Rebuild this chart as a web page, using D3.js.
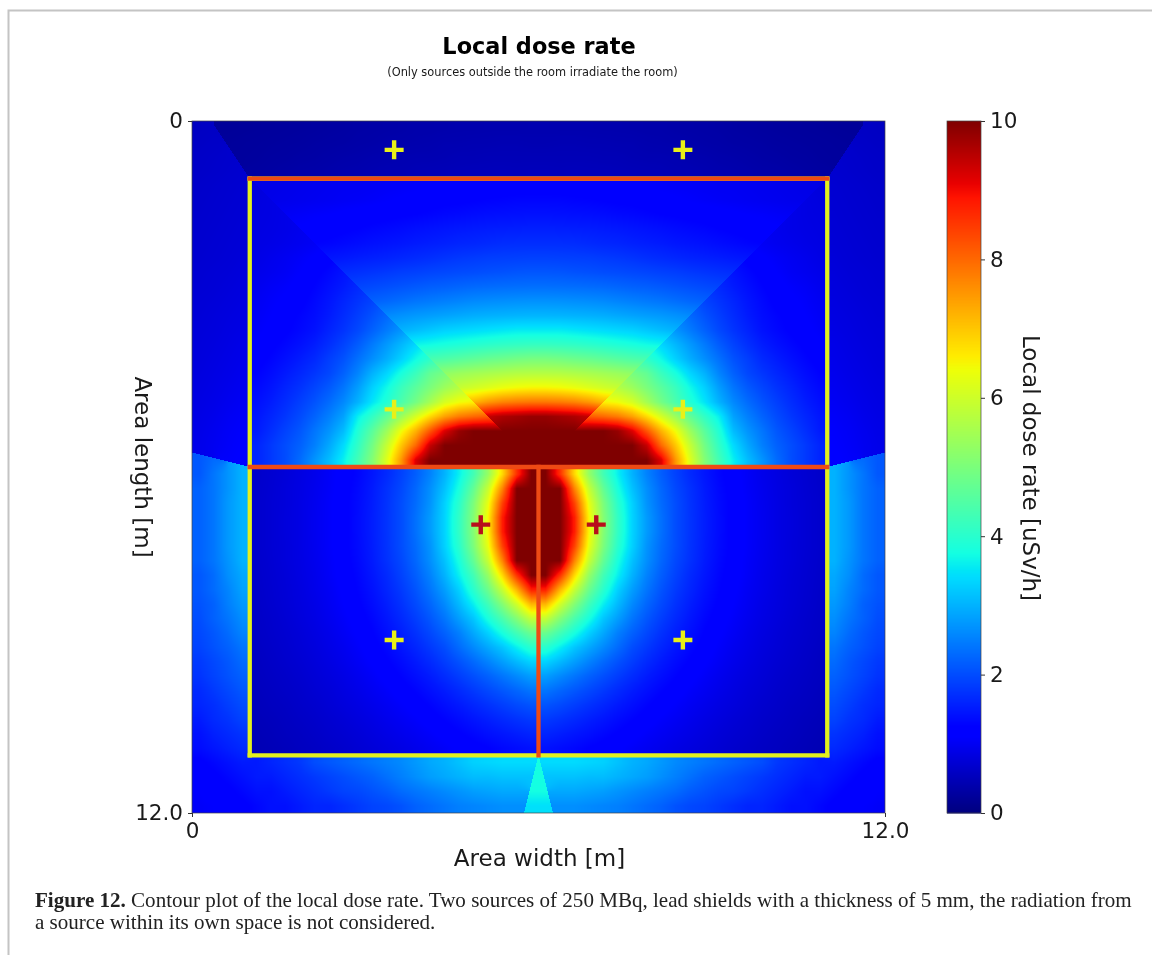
<!DOCTYPE html>
<html>
<head>
<meta charset="utf-8">
<script src="https://cdn.jsdelivr.net/npm/d3@7"></script>
<style>
	html, body { margin: 0; background: #fff; }
	#chart { position: relative; width: 1152px; height: 955px; overflow: hidden; filter: blur(.35px); }
	#chart canvas, #chart svg { position: absolute; }
	text { font-family: 'DejaVu Sans', sans-serif; fill: #1a1a1a; }
	.caption { font-family: 'Liberation Serif', serif; font-size: 21.05px; fill: #222; }
</style>
</head>
<body>
<div id="chart"></div>
<script>
// dose rate [uSv/h] on a 0.25 m grid.
// rows run from y = 0.125 m down to 11.875 m, columns from x = 0.125 m to 5.875 m (the plot mirrors at x = 6 m)
const doseRows = [
	[.58,.6,.22,.23,.24,.25,.26,.27,.28,.3,.31,.33,.34,.35,.36,.38,.38,.39,.4,.4,.41,.41,.41,.42],
	[.6,.62,.24,.25,.26,.27,.28,.29,.31,.32,.33,.35,.36,.38,.39,.4,.41,.43,.43,.44,.44,.45,.45,.44],
	[.62,.64,.66,.26,.27,.29,.3,.32,.33,.35,.37,.38,.4,.41,.43,.44,.44,.45,.47,.47,.48,.48,.48,.48],
	[.63,.65,.67,.69,.29,.31,.33,.35,.36,.38,.4,.41,.43,.45,.45,.47,.48,.49,.5,.51,.51,.52,.51,.52],
	[.65,.67,.69,.71,.88,.9,.92,.94,.96,.98,1.0,1.0,1.02,1.04,1.05,1.07,1.09,1.11,1.13,1.15,1.16,1.18,1.18,1.19],
	[.66,.68,.7,.72,.82,.92,.94,.96,.98,1.0,1.02,1.04,1.06,1.09,1.12,1.15,1.18,1.21,1.22,1.24,1.26,1.27,1.29,1.29],
	[.67,.69,.71,.73,.84,.86,1.02,1.05,1.08,1.1,1.13,1.15,1.18,1.2,1.23,1.25,1.28,1.31,1.33,1.36,1.38,1.39,1.4,1.41],
	[.68,.7,.72,.74,.85,.87,.9,1.12,1.15,1.18,1.22,1.25,1.29,1.32,1.35,1.39,1.42,1.45,1.48,1.5,1.52,1.53,1.54,1.55],
	[.69,.71,.73,.75,.86,.89,.93,.97,1.25,1.28,1.32,1.36,1.4,1.43,1.46,1.5,1.53,1.56,1.6,1.62,1.65,1.68,1.69,1.69],
	[.7,.72,.74,.77,.88,.94,.99,1.05,1.12,1.45,1.48,1.52,1.55,1.58,1.62,1.66,1.7,1.75,1.79,1.82,1.85,1.86,1.87,1.88],
	[.72,.74,.76,.79,.92,.97,1.02,1.1,1.2,1.3,1.68,1.72,1.76,1.8,1.85,1.88,1.92,1.95,1.98,2.0,2.03,2.05,2.08,2.09],
	[.73,.75,.78,.81,.96,1.03,1.08,1.16,1.26,1.38,1.5,1.92,1.97,2.02,2.07,2.12,2.17,2.2,2.24,2.28,2.3,2.32,2.33,2.34],
	[.75,.77,.8,.83,1.0,1.07,1.13,1.2,1.32,1.45,1.6,1.75,2.2,2.26,2.33,2.4,2.45,2.5,2.55,2.6,2.63,2.65,2.67,2.68],
	[.76,.79,.82,.85,1.03,1.1,1.19,1.27,1.36,1.5,1.67,1.85,2.05,2.6,2.68,2.75,2.8,2.85,2.9,2.95,2.98,3.0,3.02,3.03],
	[.78,.8,.84,.87,1.06,1.14,1.22,1.31,1.41,1.58,1.75,1.95,2.2,2.45,3.0,3.1,3.2,3.3,3.35,3.4,3.45,3.5,3.55,3.55],
	[.79,.82,.86,.9,1.12,1.21,1.3,1.4,1.52,1.7,1.9,2.15,2.45,2.75,3.05,3.65,3.72,3.8,3.87,3.95,4.02,4.08,4.12,4.15],
	[.8,.84,.88,.92,1.18,1.28,1.39,1.51,1.64,1.85,2.05,2.35,2.65,2.95,3.3,3.7,4.35,4.45,4.55,4.65,4.75,4.82,4.9,4.95],
	[.82,.86,.9,.95,1.25,1.36,1.49,1.62,1.77,1.94,2.2,2.55,3.0,3.35,3.8,4.2,4.7,5.25,5.38,5.47,5.55,5.62,5.68,5.7],
	[.84,.88,.93,.98,1.32,1.44,1.59,1.74,1.92,2.12,2.4,2.8,3.3,3.7,4.2,4.6,5.0,5.4,5.9,6.05,6.2,6.35,6.45,6.5],
	[.86,.9,.96,1.01,1.39,1.52,1.68,1.86,2.06,2.3,2.59,3.0,3.5,3.9,4.4,4.9,5.5,6.1,6.4,7.2,7.5,7.7,7.8,7.85],
	[.88,.93,1.0,1.05,1.46,1.61,1.78,1.98,2.22,2.5,2.84,3.6,4.1,4.7,5.4,6.1,6.8,7.4,7.8,8.0,9.4,9.6,9.7,9.8],
	[.9,.96,1.03,1.08,1.5,1.7,1.9,2.1,2.4,2.7,3.1,3.9,4.6,5.4,6.4,7.2,8.2,9.2,9.8,10,10,10,10,10],
	[.92,.98,1.05,1.1,1.6,1.8,2.0,2.2,2.5,2.9,3.4,4.1,4.9,5.9,7.0,8.0,9.4,10,10,10,10,10,10,10],
	[2.1,2.3,1.07,1.13,1.6,1.8,2.0,2.3,2.7,3.1,3.6,4.3,5.1,6.2,7.5,9.2,10,10,10,10,10,10,10,10],
	[2.1,2.4,2.7,3.0,.65,.71,.77,.85,.93,1.04,1.16,1.29,1.46,1.65,1.89,2.17,2.53,3.0,3.6,4.3,5.3,6.8,8.6,10],
	[2.2,2.4,2.7,3.0,.66,.72,.79,.86,.95,1.05,1.18,1.32,1.5,1.72,1.95,2.26,2.65,3.15,3.8,4.7,5.9,7.7,10,10],
	[2.2,2.4,2.75,3.0,.67,.73,.79,.87,.96,1.07,1.2,1.34,1.52,1.74,2.0,2.3,2.7,3.3,4.0,5.0,6.3,8.4,10,10],
	[2.2,2.4,2.75,3.0,.67,.73,.8,.87,.97,1.07,1.2,1.35,1.53,1.75,2.0,2.35,2.77,3.33,4.1,5.1,6.5,8.8,10,10],
	[2.2,2.4,2.75,3.0,.67,.73,.8,.87,.97,1.07,1.2,1.35,1.53,1.75,2.0,2.35,2.77,3.33,4.1,5.1,6.5,8.8,10,10],
	[2.2,2.4,2.75,3.0,.67,.73,.79,.87,.96,1.07,1.2,1.34,1.52,1.74,2.0,2.3,2.7,3.3,4.0,5.0,6.3,8.4,10,10],
	[2.2,2.4,2.7,3.0,.66,.72,.79,.86,.95,1.05,1.18,1.32,1.5,1.72,1.95,2.26,2.65,3.15,3.8,4.7,5.9,7.7,10,10],
	[2.1,2.3,2.65,2.9,.65,.71,.77,.85,.93,1.04,1.16,1.29,1.46,1.65,1.89,2.17,2.53,3.0,3.6,4.3,5.3,6.8,8.6,10],
	[2.1,2.3,2.55,2.85,.64,.7,.76,.83,.92,1.01,1.13,1.26,1.41,1.6,1.81,2.07,2.4,2.8,3.3,4.0,4.8,5.9,7.2,8.8],
	[2.05,2.2,2.5,2.75,.63,.69,.75,.82,.89,.99,1.1,1.22,1.36,1.53,1.73,1.97,2.25,2.6,3.07,3.6,4.26,5.1,6.05,7.2],
	[2.0,2.2,2.4,2.65,.62,.67,.73,.8,.87,.96,1.06,1.17,1.3,1.46,1.64,1.85,2.1,2.4,2.8,3.2,3.8,4.4,5.1,5.9],
	[1.95,2.1,2.3,2.55,.61,.66,.71,.77,.84,.92,1.02,1.12,1.24,1.39,1.54,1.73,1.95,2.2,2.5,2.9,3.3,3.8,4.3,4.8],
	[1.9,2.05,2.2,2.4,.59,.64,.69,.75,.81,.89,.97,1.07,1.18,1.31,1.45,1.61,1.8,2.0,2.3,2.6,2.9,3.2,3.6,4.0],
	[1.8,1.95,2.1,2.3,.57,.62,.67,.72,.78,.85,.93,1.02,1.12,1.23,1.35,1.49,1.65,1.84,2.05,2.28,2.53,2.8,3.07,3.33],
	[1.75,1.9,2.05,2.2,.56,.6,.64,.69,.75,.81,.88,.96,1.05,1.15,1.26,1.38,1.51,1.67,1.84,2.02,2.2,2.4,2.6,2.8],
	[1.65,1.8,1.95,2.1,.54,.58,.62,.66,.72,.77,.84,.91,.99,1.07,1.17,1.27,1.39,1.51,1.65,1.8,1.95,2.1,2.25,2.4],
	[1.6,1.7,1.85,2.0,.52,.56,.59,.64,.68,.74,.8,.86,.93,1.0,1.08,1.17,1.27,1.38,1.49,1.61,1.73,1.85,1.97,2.07],
	[1.5,1.65,1.75,1.9,.5,.53,.57,.61,.65,.7,.75,.81,.87,.94,1.01,1.08,1.17,1.26,1.35,1.45,1.54,1.64,1.73,1.81],
	[1.4,1.55,1.65,1.75,.48,.51,.55,.58,.62,.67,.71,.76,.82,.88,.94,1.0,1.07,1.15,1.23,1.31,1.39,1.46,1.53,1.6],
	[1.35,1.45,1.55,1.65,.46,.49,.52,.56,.59,.63,.67,.72,.77,.82,.87,.93,.99,1.05,1.12,1.18,1.24,1.31,1.36,1.41],
	[1.2,1.3,1.4,1.5,1.5,1.6,1.7,1.8,2.0,2.1,2.2,2.3,2.4,2.5,2.6,2.75,2.9,3.0,3.15,3.3,3.35,3.4,3.4,3.4],
	[1.2,1.2,1.3,1.4,1.5,1.5,1.6,1.7,1.8,1.9,2.0,2.1,2.2,2.35,2.5,2.65,2.8,2.9,3.0,3.1,3.1,3.15,3.15,3.15],
	[1.1,1.2,1.2,1.3,1.4,1.4,1.5,1.6,1.7,1.8,1.9,1.95,2.05,2.15,2.3,2.4,2.5,2.6,2.7,2.8,2.85,2.9,2.9,3.75],
	[1.05,1.1,1.2,1.2,1.3,1.4,1.4,1.5,1.6,1.6,1.7,1.8,1.9,1.95,2.05,2.2,2.3,2.4,2.5,2.55,2.6,2.65,2.65,3.45]
];
// dose just outside the central wedge of the upper room, along its edge x = y, for y = 1.125 m to 5.875 m
const wedgeEdgeOutside = [.8,.86,.9,.95,1.02,1.2,1.42,1.64,1.9,2.27,2.7,3.35,4.05,4.95,5.7,6.55,8.15,10,10,10];

const doseTicks = [0, 2, 4, 6, 8, 10];
const axisTicks = [0, 12];
const sources = [[5, 7], [7, 7]];
const points = [[3.5, .5], [8.5, .5], [3.5, 5], [8.5, 5], [3.5, 9], [8.5, 9]];
const outerWalls = [[1, 1, 11, 1], [11, 1, 11, 11], [11, 11, 1, 11], [1, 11, 1, 1]];
const leadWalls = [[1, 1, 11, 1], [1, 6, 11, 6], [6, 6, 6, 11]];

const x = d3.scaleLinear().domain([0, 12]).range([192, 885]);
const y = d3.scaleLinear().domain([0, 12]).range([121, 813]);
const barY = d3.scaleLinear().domain([0, 10]).range([813, 121]);

// jet colormap
const jetStops = [0, .11, .125, .34, .35, .375, .64, .66, .89, .91, 1];
const jetColors = ['#00007f', '#0000ff', '#0000ff', '#00dbff', '#00e5f7', '#14ffe2', '#eeff08', '#ffec00', '#ff1300', '#e80000', '#7f0000'];
const color = d3.scaleLinear()
	.domain(jetStops.map(d => d * 10))
	.range(jetColors)
	.clamp(true);
const lut = d3.range(0, 2001).map(i => d3.rgb(color(i / 200)));

const chart = d3.select('#chart');

const canvas = chart.append('canvas')
	.attr('width', x(12) - x(0))
	.attr('height', y(12) - y(0))
	.style('left', x(0) + 'px')
	.style('top', y(0) + 'px')
	.node();

const ctx = canvas.getContext('2d');
const image = ctx.createImageData(canvas.width, canvas.height);

// the shadow edges of the walls cut the field into parts, shading stays inside one part
function part(px, py) {
	const m = Math.min(px, 12 - px);
	if (py > 11) return m > 6 - (py - 11) / 4 ? 5 : 1;
	if (m < 1 && py >= 6 - (1 - m) / 4) return 1;
	if (py >= 6) return 2;
	if (py >= 1) return m < 1 ? 3 : m >= py ? 4 : 6;
	return m < 1 / 3 + 2 * py / 3 ? 3 : 7;
}

const center = i => (i + .5) * .25;
const cell = (r, c) => doseRows[r][c < 24 ? c : 47 - c];
const cellPart = doseRows.map((row, r) => d3.range(48).map(c => part(center(c), center(r))));

const bilinear = (a, b, c, d, fx, fy) => (a * (1 - fx) + b * fx) * (1 - fy) + (c * (1 - fx) + d * fx) * fy;

function fieldAt(mx, my) {
	mx = Math.min(mx, 12 - mx);
	let p = Math.max(0, Math.min(46.999, mx / .25 - .5));
	let q = Math.max(0, Math.min(46.999, my / .25 - .5));
	let c0 = Math.floor(p), r0 = Math.floor(q);
	let fx = p - c0, fy = q - r0;
	let own = part(mx, my);

	// upper room: keep the edge of the central wedge sharp
	if (r0 >= 4 && r0 < 23 && c0 >= 4 && (own === 6 || (own === 4 && c0 >= r0))) {
		let a = cell(r0, c0), b = cell(r0, c0 + 1), c = cell(r0 + 1, c0), d = cell(r0 + 1, c0 + 1);
		if (own === 4) {
			if (c0 === r0) c = a + d - b;
		} else {
			if (c0 === r0) {
				a = wedgeEdgeOutside[r0 - 4];
				d = wedgeEdgeOutside[r0 - 3];
				b = a + d - c;
			} else if (c0 + 1 === r0) {
				b = wedgeEdgeOutside[r0 - 4];
			}
		}
		return bilinear(a, b, c, d, fx, fy);
	}

	let corners = [
		[r0, c0, (1 - fx) * (1 - fy)],
		[r0, c0 + 1, fx * (1 - fy)],
		[r0 + 1, c0, (1 - fx) * fy],
		[r0 + 1, c0 + 1, fx * fy]
	];
	let sum = 0, weight = 0, allSum = 0;
	corners.forEach(([r, c, w]) => {
		allSum += cell(r, c) * w;
		if (cellPart[r][c] === own) { sum += cell(r, c) * w; weight += w; }
	});
	if (weight > 1e-6) return sum / weight;
	// tip of the gap below the wall, no cell centre lies in there
	return own === 5 ? cell(46, 23) : allSum;
}

for (let py = 0; py < canvas.height; py++) {
	let my = y.invert(py + y(0) + .5);
	for (let px = 0; px < canvas.width; px++) {
		let v = fieldAt(x.invert(px + x(0) + .5), my);
		let rgb = lut[Math.round(Math.max(0, Math.min(10, v)) * 200)];
		let i = (py * canvas.width + px) * 4;
		image.data[i] = rgb.r;
		image.data[i + 1] = rgb.g;
		image.data[i + 2] = rgb.b;
		image.data[i + 3] = 255;
	}
}
ctx.putImageData(image, 0, 0);

const svg = chart.append('svg').attr('width', 1152).attr('height', 955);

// page frame of the article
svg.append('path')
	.attr('d', 'M8.5,955V10.5H1152')
	.attr('fill', 'none')
	.attr('stroke', '#c4c4c4')
	.attr('stroke-width', 2);

svg.append('text')
	.attr('x', 539).attr('y', 54)
	.attr('text-anchor', 'middle')
	.attr('font-size', 22.4)
	.attr('font-weight', 'bold')
	.style('fill', '#000')
	.text('Local dose rate');

svg.append('text')
	.attr('x', 532.5).attr('y', 76)
	.attr('text-anchor', 'middle')
	.attr('font-size', 11.4)
	.text('(Only sources outside the room irradiate the room)');

// walls
const drawWalls = (walls, stroke) => svg.append('g')
	.selectAll('line')
	.data(walls)
	.join('line')
	.attr('x1', d => x(d[0]))
	.attr('y1', d => y(d[1]))
	.attr('x2', d => x(d[2]))
	.attr('y2', d => y(d[3]))
	.attr('stroke', stroke)
	.attr('stroke-width', 4.3)
	.attr('stroke-linecap', 'square');

drawWalls(outerWalls, '#e4f01e');
drawWalls(leadWalls, '#ee4a14');

// plus markers
const drawPlus = (data, stroke) => svg.append('g')
	.selectAll('path')
	.data(data)
	.join('path')
	.attr('d', d => `M${x(d[0]) - 9.5},${y(d[1])}h19M${x(d[0])},${y(d[1]) - 9.5}v19`)
	.attr('stroke', stroke)
	.attr('stroke-width', 4.4)
	.attr('fill', 'none');

drawPlus(points, '#e8f018');
drawPlus(sources, '#b80f1c');

// frame and axes
svg.append('rect')
	.attr('x', x(0)).attr('y', y(0))
	.attr('width', x(12) - x(0)).attr('height', y(12) - y(0))
	.attr('fill', 'none')
	.attr('stroke', '#444')
	.attr('stroke-width', .7);

const fmt = d => d === 0 ? '0' : '12.0';

const xAxis = svg.append('g')
	.attr('transform', `translate(0,${y(12)})`)
	.call(d3.axisBottom(x).tickValues(axisTicks).tickFormat(fmt).tickSize(4).tickPadding(6));

const yAxis = svg.append('g')
	.attr('transform', `translate(${x(0)},0)`)
	.call(d3.axisLeft(y).tickValues(axisTicks).tickFormat(fmt).tickSize(4).tickPadding(5));

// colour bar
const barSteps = d3.range(0, 10, 10 / 692);
svg.append('g')
	.selectAll('rect')
	.data(barSteps)
	.join('rect')
	.attr('x', 947)
	.attr('y', d => barY(d) - 1)
	.attr('width', 34)
	.attr('height', 1.5)
	.attr('fill', d => color(d));

svg.append('rect')
	.attr('x', 947).attr('y', barY(10))
	.attr('width', 34).attr('height', barY(0) - barY(10))
	.attr('fill', 'none')
	.attr('stroke', '#444')
	.attr('stroke-width', .7);

const barAxis = svg.append('g')
	.attr('transform', 'translate(981,0)')
	.call(d3.axisRight(barY).tickValues(doseTicks).tickSize(4).tickPadding(5));

[xAxis, yAxis, barAxis].forEach(g => {
	g.select('.domain').remove();
	g.selectAll('text').attr('font-size', 21.5).attr('font-family', null);
	g.selectAll('line').attr('stroke', '#333');
});

// axis titles
svg.append('text')
	.attr('x', 539.5).attr('y', 866)
	.attr('text-anchor', 'middle')
	.attr('font-size', 23)
	.text('Area width [m]');

svg.append('text')
	.attr('transform', 'translate(135,467) rotate(90)')
	.attr('text-anchor', 'middle')
	.attr('font-size', 23)
	.text('Area length [m]');

svg.append('text')
	.attr('transform', 'translate(1023,468) rotate(90)')
	.attr('text-anchor', 'middle')
	.attr('font-size', 23)
	.text('Local dose rate [uSv/h]');

// caption
const line1 = svg.append('text').attr('class', 'caption').attr('x', 35).attr('y', 907);
line1.append('tspan').attr('font-weight', 'bold').text('Figure 12.');
line1.append('tspan').text(' Contour plot of the local dose rate. Two sources of 250 MBq, lead shields with a thickness of 5 mm, the radiation from');

svg.append('text').attr('class', 'caption').attr('x', 35).attr('y', 929)
	.text('a source within its own space is not considered.');
</script>
</body>
</html>
